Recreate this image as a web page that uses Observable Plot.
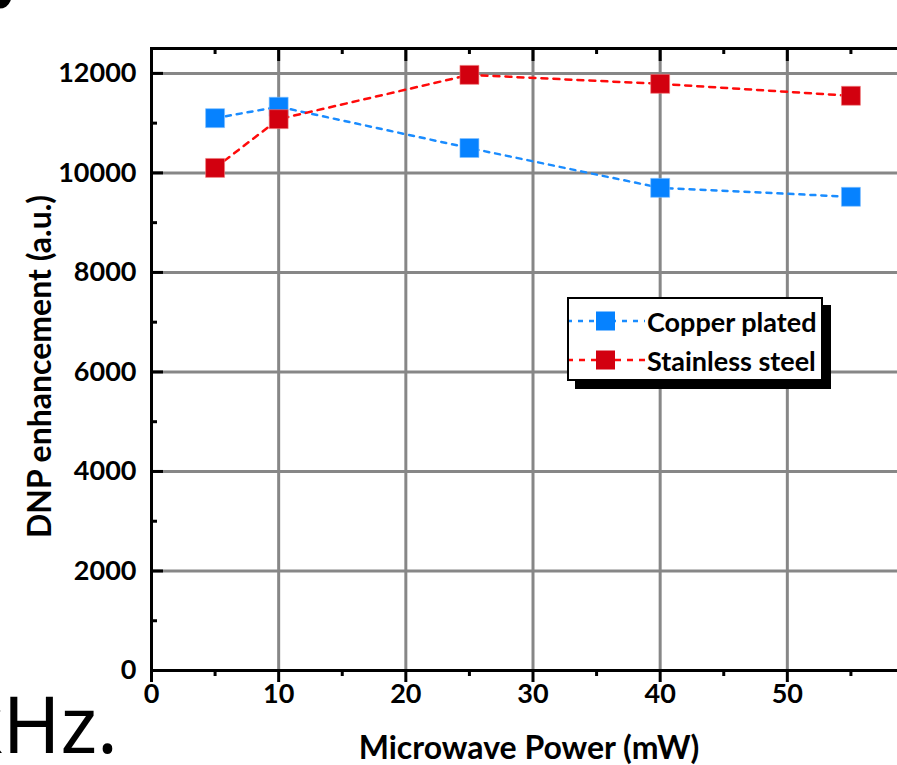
<!DOCTYPE html>
<html>
<head>
<meta charset="utf-8">
<script src="https://cdn.jsdelivr.net/npm/d3@7"></script>
<script src="https://cdn.jsdelivr.net/npm/@observablehq/plot@0.6"></script>
<style>
  html, body { margin: 0; padding: 0; overflow: hidden; background: #fff; width: 897px; height: 765px; }
  #wrap { position: relative; width: 897px; height: 765px; overflow: hidden; }
  #chart svg { max-width: none !important; display: block; }
  #frags { position: absolute; left: 0; top: 0; pointer-events: none; }
  #legend { position: absolute; left: 567px; top: 297px; width: 252px; height: 80px; border: 2.5px solid #000; background: #fff; box-shadow: 8px 8px 0 #000; font-family: Lato, sans-serif; font-weight: bold; font-size: 27px; }
  #legend .row { position: absolute; left: 0; height: 40px; display: flex; align-items: center; }
  #legend svg { display: block; }
</style>
</head>
<body>
<div id="wrap">
  <div id="chart"></div>
  <div id="legend"></div>
  <svg id="frags" width="897" height="765">
    <text x="118" y="753" text-anchor="end" font-family="Noto Sans, sans-serif" font-size="78" fill="#000">kHz.</text>
    <text x="-23" y="8" font-family="Noto Sans, sans-serif" font-weight="bold" font-size="60" fill="#000">b</text>
  </svg>
</div>
<script>
const power = [5, 10, 25, 40, 55];
const copperPlated = [11100, 11330, 10500, 9700, 9520];
const stainlessSteel = [10100, 11080, 11970, 11790, 11550];
const seriesNames = ["Copper plated", "Stainless steel"];
const xMajor = [0, 10, 20, 30, 40, 50, 60];
const xLabels = [0, 10, 20, 30, 40, 50];
const xMinor = [5, 15, 25, 35, 45, 55];
const yMajor = [0, 2000, 4000, 6000, 8000, 10000, 12000];
const yMinor = [1000, 3000, 5000, 7000, 9000, 11000];
const xTitle = "Microwave Power (mW)";
const yTitle = "DNP enhancement (a.u.)";

const blueMarker = "#0682ff", blueLine = "#1a8cff";
const redMarker = "#d2000f", redLine = "#ff0a0a";

const copper = power.map((p, i) => ({x: p, y: copperPlated[i]}));
const steel = power.map((p, i) => ({x: p, y: stainlessSteel[i]}));

const tickCommon = {stroke: "#000", strokeWidth: 3, text: null, label: null};
const chart = Plot.plot({
  width: 920, height: 765,
  marginLeft: 151, marginRight: 6, marginTop: 48, marginBottom: 95,
  x: {domain: [0, 60]},
  y: {domain: [0, 12500]},
  style: {fontFamily: "Lato, sans-serif", fontWeight: "bold", background: "#fff"},
  marks: [
    Plot.gridX(xMajor, {stroke: "#878787", strokeOpacity: 1, strokeWidth: 3}),
    Plot.gridY(yMajor, {stroke: "#878787", strokeOpacity: 1, strokeWidth: 3}),
    Plot.frame({stroke: "#000", strokeWidth: 3}),
    // bottom ticks (outward)
    Plot.axisX(xMajor, {anchor: "bottom", tickSize: 12, ...tickCommon}),
    Plot.axisX(xMinor, {anchor: "bottom", tickSize: 6, ...tickCommon}),
    // top ticks (inward)
    Plot.axisX(xMajor, {anchor: "top", tickSize: -12, ...tickCommon}),
    Plot.axisX(xMinor, {anchor: "top", tickSize: -5, ...tickCommon}),
    // left ticks (inward)
    Plot.axisY(yMajor, {anchor: "left", tickSize: -12, ...tickCommon}),
    Plot.axisY(yMinor, {anchor: "left", tickSize: -6, ...tickCommon}),
    // tick labels
    Plot.axisX(xLabels, {anchor: "bottom", tickSize: 0, tickPadding: 13, fontSize: 27, fontWeight: "bold", fill: "#000", label: null}),
    Plot.axisY(yMajor, {anchor: "left", tickSize: 0, tickPadding: 15, fontSize: 27, fontWeight: "bold", fill: "#000", label: null, tickFormat: d => String(d)}),
    // titles
    Plot.text([xTitle], {text: d => d, frameAnchor: "bottom", textAnchor: "middle", lineAnchor: "middle", dy: 78, dx: -4, fontSize: 32, fontWeight: "bold", fill: "#000"}),
    Plot.text([yTitle], {text: d => d, frameAnchor: "left", textAnchor: "middle", lineAnchor: "middle", rotate: -90, dx: -111, dy: 7, fontSize: 32, fontWeight: "bold", fill: "#000"}),
    // data
    Plot.line(copper, {x: "x", y: "y", stroke: blueLine, strokeWidth: 2.5, strokeDasharray: "5,6"}),
    Plot.dot(copper, {x: "x", y: "y", symbol: "square", r: 10.7, fill: blueMarker, stroke: "#7fbfff", strokeWidth: 0.6}),
    Plot.line(steel, {x: "x", y: "y", stroke: redLine, strokeWidth: 2.5, strokeDasharray: "6,6"}),
    Plot.dot(steel, {x: "x", y: "y", symbol: "square", r: 10.7, fill: redMarker, stroke: "#f08080", strokeWidth: 0.6})
  ]
});
document.getElementById("chart").appendChild(chart);

// legend
const legend = document.getElementById("legend");
const specs = [
  {name: seriesNames[0], line: blueLine, marker: blueMarker, dash: "5,6", top: 2},
  {name: seriesNames[1], line: redLine, marker: redMarker, dash: "6,6", top: 41}
];
for (const s of specs) {
  const row = document.createElement("div");
  row.className = "row";
  row.style.top = s.top + "px";
  const svg = d3.create("svg").attr("width", 76).attr("height", 40);
  svg.append("line").attr("x1", -2).attr("x2", 76).attr("y1", 20).attr("y2", 20)
    .attr("stroke", s.line).attr("stroke-width", 2.5).attr("stroke-dasharray", s.dash);
  svg.append("rect").attr("x", 27).attr("y", 10.5).attr("width", 19).attr("height", 19)
    .attr("fill", s.marker);
  row.appendChild(svg.node());
  const t = document.createElement("span");
  t.textContent = s.name;
  t.style.marginLeft = "2px";
  row.appendChild(t);
  legend.appendChild(row);
}
</script>
</body>
</html>
